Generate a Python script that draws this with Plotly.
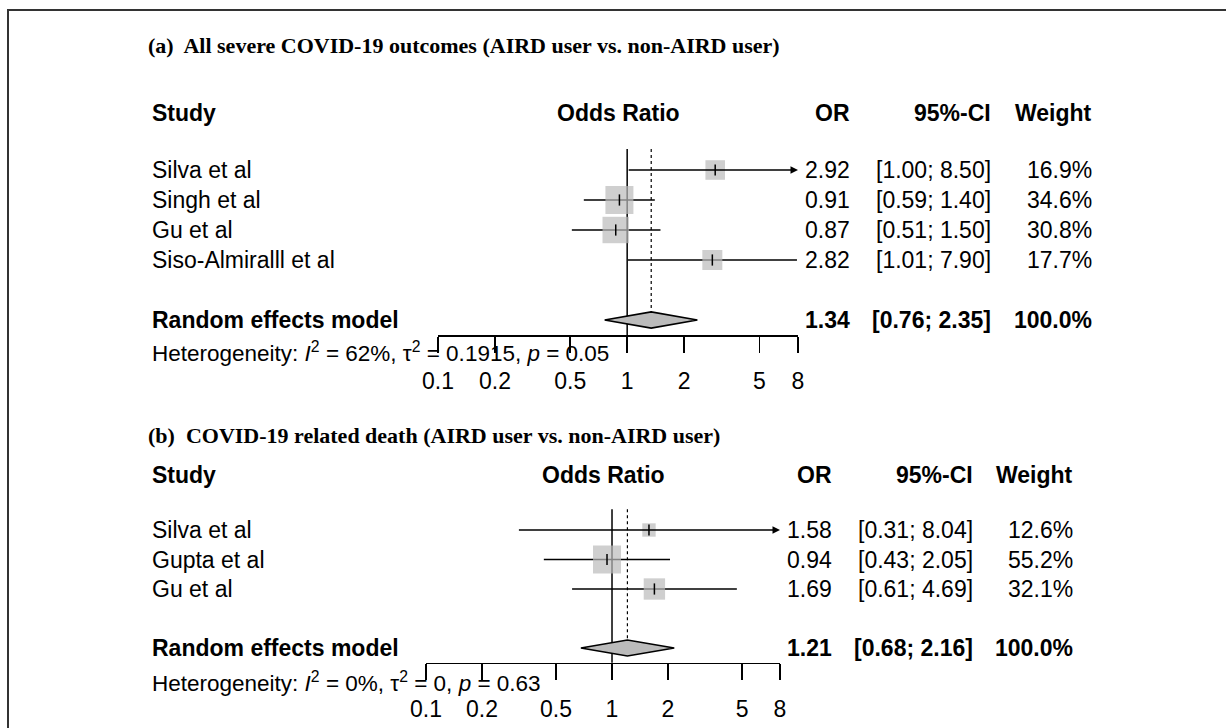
import math
import plotly.graph_objects as go

# ---------------- data ----------------
a_title = "(a)  All severe COVID-19 outcomes (AIRD user vs. non-AIRD user)"
a_studies = ["Silva et al", "Singh et al", "Gu et al", "Siso-Almiralll et al"]
a_or = [2.92, 0.91, 0.87, 2.82]
a_lo = [1.00, 0.59, 0.51, 1.01]
a_hi = [8.50, 1.40, 1.50, 7.90]
a_w = [16.9, 34.6, 30.8, 17.7]
a_pooled = [1.34, 0.76, 2.35]
a_pooled_w = 100.0
a_het = ["62%", "0.1915", "0.05"]

b_title = "(b)  COVID-19 related death (AIRD user vs. non-AIRD user)"
b_studies = ["Silva et al", "Gupta et al", "Gu et al"]
b_or = [1.58, 0.94, 1.69]
b_lo = [0.31, 0.43, 0.61]
b_hi = [8.04, 2.05, 4.69]
b_w = [12.6, 55.2, 32.1]
b_pooled = [1.21, 0.68, 2.16]
b_pooled_w = 100.0
b_het = ["0%", "0", "0.63"]

tick_vals = [0.1, 0.2, 0.5, 1, 2, 5, 8]
tick_text = ["0.1", "0.2", "0.5", "1", "2", "5", "8"]
x_min, x_max = 0.1, 8

# ---------------- layout helpers ----------------
W, H = 1226, 728
def PX(p): return p / W
def PY(p): return 1 - p / H

SANS = "Liberation Sans, Arial, sans-serif"
SERIF = "Liberation Serif, Times New Roman, serif"
FS = 23
GRAY = "#BBBBBB"

panels = [
    dict(title=a_title, studies=a_studies, est=a_or, lo=a_lo, hi=a_hi, w=a_w,
         pooled=a_pooled, pooled_w=a_pooled_w, het=a_het,
         xpx=(438, 798), row0=155, step=30.0, nrows=8.5,
         title_y=45, head_y=113, axis_row=6.5, het_y=352,
         col_or=852, col_ci=993, col_w=1094),
    dict(title=b_title, studies=b_studies, est=b_or, lo=b_lo, hi=b_hi, w=b_w,
         pooled=b_pooled, pooled_w=b_pooled_w, het=b_het,
         xpx=(426, 780), row0=515.25, step=29.5, nrows=7.5,
         title_y=435, head_y=475, axis_row=5.5, het_y=682,
         col_or=834, col_ci=975, col_w=1075),
]

fig = go.Figure()
annotations = []
shapes = []
layout_axes = {}

for i, p in enumerate(panels, start=1):
    xa = "x" if i == 1 else f"x{i}"
    ya = "y" if i == 1 else f"y{i}"
    xname = "xaxis" if i == 1 else f"xaxis{i}"
    yname = "yaxis" if i == 1 else f"yaxis{i}"

    n = len(p["studies"])
    rows = list(range(1, n + 1))
    re_row = n + 2

    top_px = p["row0"] - 0.5 * p["step"]
    bot_px = p["row0"] + (p["nrows"] - 0.5) * p["step"]
    axis_px = p["row0"] + (p["axis_row"] - 0.5) * p["step"]

    layout_axes[xname] = dict(
        type="log", range=[math.log10(x_min), math.log10(x_max)],
        domain=[PX(p["xpx"][0]), PX(p["xpx"][1])],
        anchor="free", position=PY(axis_px),
        showline=True, linecolor="black", linewidth=1.5,
        ticks="outside", ticklen=16, tickwidth=1.5, tickcolor="black",
        tickvals=tick_vals, ticktext=tick_text,
        tickfont=dict(family=SANS, size=FS, color="black"),
        ticklabelstandoff=9, automargin=False,
        showgrid=False, zeroline=False,
    )
    layout_axes[yname] = dict(
        range=[p["nrows"], 0], domain=[PY(bot_px), PY(top_px)],
        visible=False, anchor=xa, fixedrange=True, automargin=False,
    )

    # CI lines
    for r, lo, hi in zip(rows, p["lo"], p["hi"]):
        x0 = max(lo, x_min)
        x1 = min(hi, x_max)
        if hi > x_max:
            annotations.append(dict(
                x=math.log10(x1), y=r, xref=xa, yref=ya,
                ax=math.log10(x0), ay=r, axref=xa, ayref=ya,
                showarrow=True, arrowhead=2, arrowsize=1.0, arrowwidth=1.5,
                arrowcolor="black", text="", standoff=0, startstandoff=0,
            ))
        else:
            fig.add_trace(go.Scatter(
                x=[x0, x1], y=[r, r], xaxis=xa, yaxis=ya, mode="lines",
                line=dict(color="black", width=1.5), hoverinfo="skip",
                showlegend=False))

    # squares (side proportional to sqrt of weight)
    wmax = max(p["w"])
    sizes = [28 * math.sqrt(w / wmax) for w in p["w"]]
    fig.add_trace(go.Scatter(
        x=p["est"], y=rows, xaxis=xa, yaxis=ya, mode="markers",
        marker=dict(symbol="square", size=sizes, color=GRAY, line=dict(width=0)),
        cliponaxis=False, hoverinfo="skip", showlegend=False))
    fig.add_trace(go.Scatter(
        x=p["est"], y=rows, xaxis=xa, yaxis=ya, mode="markers",
        marker=dict(symbol="line-ns", size=8, line=dict(width=1.5, color="black")),
        cliponaxis=False, hoverinfo="skip", showlegend=False))

    # pooled diamond
    est, plo, phi = p["pooled"]
    hh = 0.27
    fig.add_trace(go.Scatter(
        x=[plo, est, phi, est, plo], y=[re_row, re_row - hh, re_row, re_row + hh, re_row],
        xaxis=xa, yaxis=ya, mode="lines", fill="toself", fillcolor=GRAY,
        line=dict(color="black", width=1.6), hoverinfo="skip", showlegend=False))

    # reference line at 1 and dashed pooled line
    shapes.append(dict(type="line", xref=xa, yref=ya, x0=1, x1=1,
                       y0=0.3, y1=p["axis_row"], line=dict(color="black", width=1.5),
                       layer="below"))
    shapes.append(dict(type="line", xref=xa, yref=ya, x0=est, x1=est,
                       y0=0.3, y1=re_row - hh, line=dict(color="black", width=1.2, dash="dot"),
                       layer="below"))

    # title
    annotations.append(dict(x=PX(146), y=PY(p["title_y"]), xref="paper", yref="paper",
                            xanchor="left", yanchor="middle", showarrow=False,
                            text=f"<b>{p['title']}</b>",
                            font=dict(family=SERIF, size=22, color="black")))
    # headers
    hy = PY(p["head_y"])
    xmid = (p["xpx"][0] + p["xpx"][1]) / 2
    for txt, x, anc in [("Study", 150, "left"), ("Odds Ratio", xmid, "center"),
                        ("OR", p["col_or"], "right"), ("95%-CI", p["col_ci"], "right"),
                        ("Weight", p["col_w"], "right")]:
        annotations.append(dict(x=PX(x), y=hy, xref="paper", yref="paper",
                                xanchor=anc, yanchor="middle", showarrow=False,
                                text=f"<b>{txt}</b>",
                                font=dict(family=SANS, size=FS, color="black")))

    def row_text(r, label, e, lo, hi, wt, bold=False):
        vals = [(label, 150, "left"), (f"{e:.2f}", p["col_or"], "right"),
                (f"[{lo:.2f}; {hi:.2f}]", p["col_ci"], "right"),
                (wt, p["col_w"], "right")]
        for txt, x, anc in vals:
            annotations.append(dict(x=PX(x), y=r, xref="paper", yref=ya,
                                    xanchor=anc, yanchor="middle", showarrow=False,
                                    text=f"<b>{txt}</b>" if bold else txt,
                                    font=dict(family=SANS, size=FS, color="black")))

    for r, s, e, lo, hi, w in zip(rows, p["studies"], p["est"], p["lo"], p["hi"], p["w"]):
        row_text(r, s, e, lo, hi, f"{w:.1f}%")
    row_text(re_row, "Random effects model", est, plo, phi, f"{p['pooled_w']:.1f}%", bold=True)

    i2, t2, pv = p["het"]
    annotations.append(dict(
        x=PX(150), y=PY(p["het_y"]), xref="paper", yref="paper",
        xanchor="left", yanchor="middle", showarrow=False,
        text=f"Heterogeneity: <i>I</i><sup>2</sup> = {i2}, τ<sup>2</sup> = {t2}, <i>p</i> = {pv}",
        font=dict(family=SANS, size=22.5, color="black")))

# outer frame
shapes.append(dict(type="rect", xref="paper", yref="paper",
                   x0=PX(8), x1=1.02, y0=-0.02, y1=PY(10),
                   line=dict(color="#333333", width=2), fillcolor="rgba(0,0,0,0)",
                   layer="above"))

fig.update_layout(
    width=W, height=H, autosize=False,
    margin=dict(l=0, r=0, t=0, b=0, pad=0),
    paper_bgcolor="white", plot_bgcolor="white",
    showlegend=False,
    annotations=annotations, shapes=shapes,
    **layout_axes,
)

fig.write_html("out.html",
               config={"displayModeBar": False, "staticPlot": True},
               post_script="document.body.style.margin='0px';document.body.style.overflow='hidden';")
